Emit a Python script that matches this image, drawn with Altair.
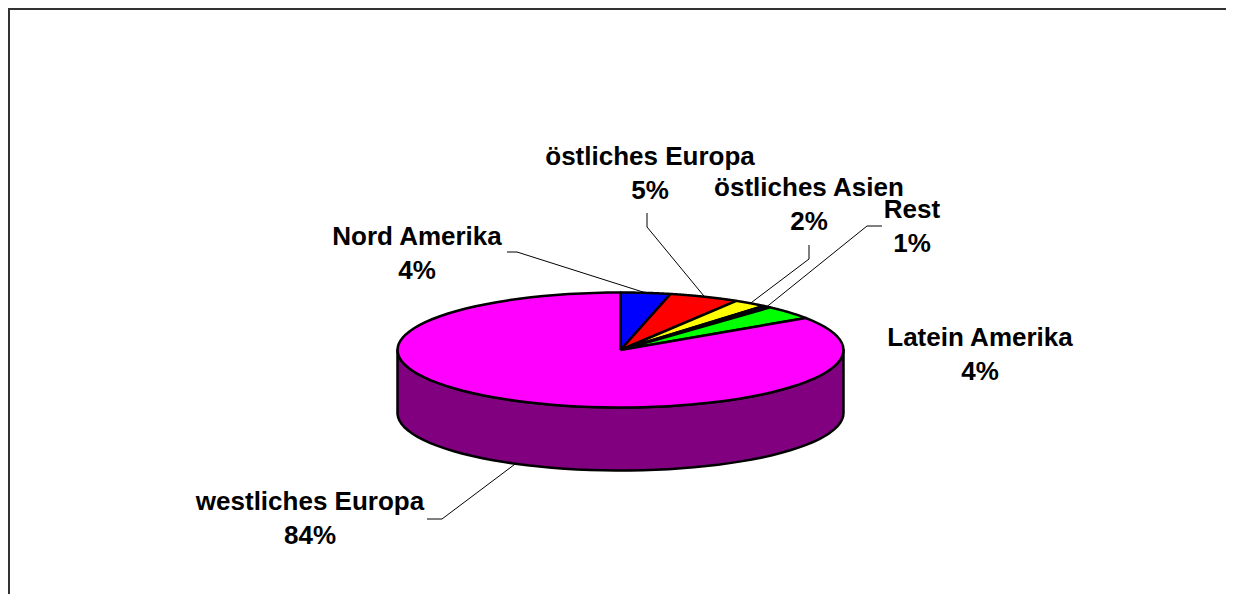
import altair as alt
import pandas as pd

# ---------------- data ----------------
categories = ["Nord Amerika", "östliches Europa", "östliches Asien", "Rest",
              "Latein Amerika", "westliches Europa"]
shares = [3.6, 5.1, 2.4, 0.6, 3.9, 84.4]          # percent (labels round to 4,5,2,1,4,84)

# ---------------- styles ----------------
top_colors = ["#0000FF", "#FF0000", "#FFFF00", "#000080", "#00FF00", "#FF00FF"]
side_colors = ["#000080", "#800000", "#808000", "#000040", "#008000", "#800080"]
FONT = "Liberation Sans"

# ---------------- layout (page pixel units) ----------------
W, H, OFF = 1218, 586, 8
CX, CY, RX, RY, DEPTH = 620.5, 350.0, 223.0, 57.5, 63.0
N = 90
label_x = [417, 650, 809, 912, 980, 310]
label_y = [237, 157, 188, 210, 338, 502]     # centre of the first text line
lead_x0 = [507, 647, 809, 882, None, 427]
lead_y0 = [252, 213, 245, 226, None, 519]
lead_x1 = [517, 647, 809, 867, None, 442]
lead_y1 = [252, 227, 259, 226, None, 519]

df = pd.DataFrame({
    "category": categories, "share": shares, "order": list(range(len(categories))),
    "tx": label_x, "ty": label_y,
    "lx0": lead_x0, "ly0": lead_y0, "lx1": lead_x1, "ly1": lead_y1,
})

XS = alt.Scale(domain=[OFF, OFF + W], nice=False, zero=False)
YS = alt.Scale(domain=[OFF, OFF + H], nice=False, zero=False, reverse=True)


def X(f):
    return alt.X(f, type="quantitative", scale=XS, axis=None)


def Y(f):
    return alt.Y(f, type="quantitative", scale=YS, axis=None)


def base():
    return (
        alt.Chart(df)
        .transform_joinaggregate(total="sum(share)")
        .transform_window(cum="sum(share)", sort=[alt.SortField("order", order="ascending")],
                          frame=[None, 0])
        .transform_calculate(a0="2*PI*(datum.cum - datum.share)/datum.total")
        .transform_calculate(a1="2*PI*datum.cum/datum.total")
    )


# side wall (front half only)
wall = (
    base()
    .transform_filter("datum.a1 > PI/2 && datum.a0 < 3*PI/2")
    .transform_calculate(steps=f"sequence(0, {N + 1})")
    .transform_flatten(["steps"])
    .transform_calculate(th=f"clamp(datum.a0 + (datum.a1 - datum.a0) * datum.steps / {N}, PI/2, 3*PI/2)")
    .transform_calculate(wx=f"{CX} + {RX}*sin(datum.th)")
    .transform_calculate(wy=f"{CY} - {RY}*cos(datum.th)")
    .transform_calculate(wy2=f"datum.wy + {DEPTH}")
    .mark_area(stroke="black", strokeWidth=2.5, strokeJoin="round")
    .encode(
        x=X("wx"), y=Y("wy"), y2="wy2:Q",
        fill=alt.Fill("category:N", scale=alt.Scale(domain=categories, range=side_colors), legend=None),
        detail="category:N",
    )
)

# top face slices
top = (
    base()
    .transform_calculate(steps=f"sequence(-1, {N + 2})")
    .transform_flatten(["steps"])
    .transform_calculate(th=f"datum.a0 + (datum.a1 - datum.a0) * clamp(datum.steps, 0, {N}) / {N}")
    .transform_calculate(px=f"(datum.steps < 0 || datum.steps > {N}) ? {CX} : {CX} + {RX}*sin(datum.th)")
    .transform_calculate(py=f"(datum.steps < 0 || datum.steps > {N}) ? {CY} : {CY} - {RY}*cos(datum.th)")
    .mark_line(stroke="black", strokeWidth=2.5, strokeJoin="round")
    .encode(
        x=X("px"), y=Y("py"),
        fill=alt.Fill("category:N", scale=alt.Scale(domain=categories, range=top_colors), legend=None),
        detail="category:N",
        order="steps:Q",
    )
)

# leader lines
leaders = (
    base()
    .transform_filter("isValid(datum.lx0)")
    .transform_calculate(mid="(datum.a0 + datum.a1)/2")
    .transform_calculate(ex=f"{CX} + {RX}*sin(datum.mid)")
    .transform_calculate(ey=f"{CY} - {RY}*cos(datum.mid) + (cos(datum.mid) < 0 ? {DEPTH} : 0)")
    .transform_calculate(pt="[0, 1, 2]")
    .transform_flatten(["pt"])
    .transform_calculate(qx="datum.pt == 0 ? datum.lx0 : (datum.pt == 1 ? datum.lx1 : datum.ex)")
    .transform_calculate(qy="datum.pt == 0 ? datum.ly0 : (datum.pt == 1 ? datum.ly1 : datum.ey)")
    .mark_line(color="black", strokeWidth=1)
    .encode(x=X("qx"), y=Y("qy"), detail="category:N", order="pt:Q")
)

# labels
labels = (
    base()
    .transform_calculate(txt="datum.category + '\\n' + format(datum.share/datum.total, '.0%')")
    .mark_text(font=FONT, fontWeight="bold", fontSize=26, lineBreak="\n", lineHeight=34,
               align="center", baseline="middle", color="black")
    .encode(x=X("tx"), y=Y("ty"), text="txt:N")
)

# chart frame (left and top edges)
frame_df = pd.DataFrame({"k": [0]})
frame_left = alt.Chart(frame_df).mark_rule(color="#333333", strokeWidth=2).encode(
    x=alt.value(1), y=alt.value(0), y2=alt.value(H))
frame_top = alt.Chart(frame_df).mark_rule(color="#333333", strokeWidth=2).encode(
    x=alt.value(0), x2=alt.value(W), y=alt.value(1))

chart = (
    alt.layer(wall, top, leaders, labels, frame_left, frame_top)
    .resolve_scale(fill="independent")
    .properties(width=W, height=H, padding=0, autosize="none")
    .configure_view(stroke=None)
)

chart.save("out.html", embed_options={"renderer": "svg", "actions": False})
